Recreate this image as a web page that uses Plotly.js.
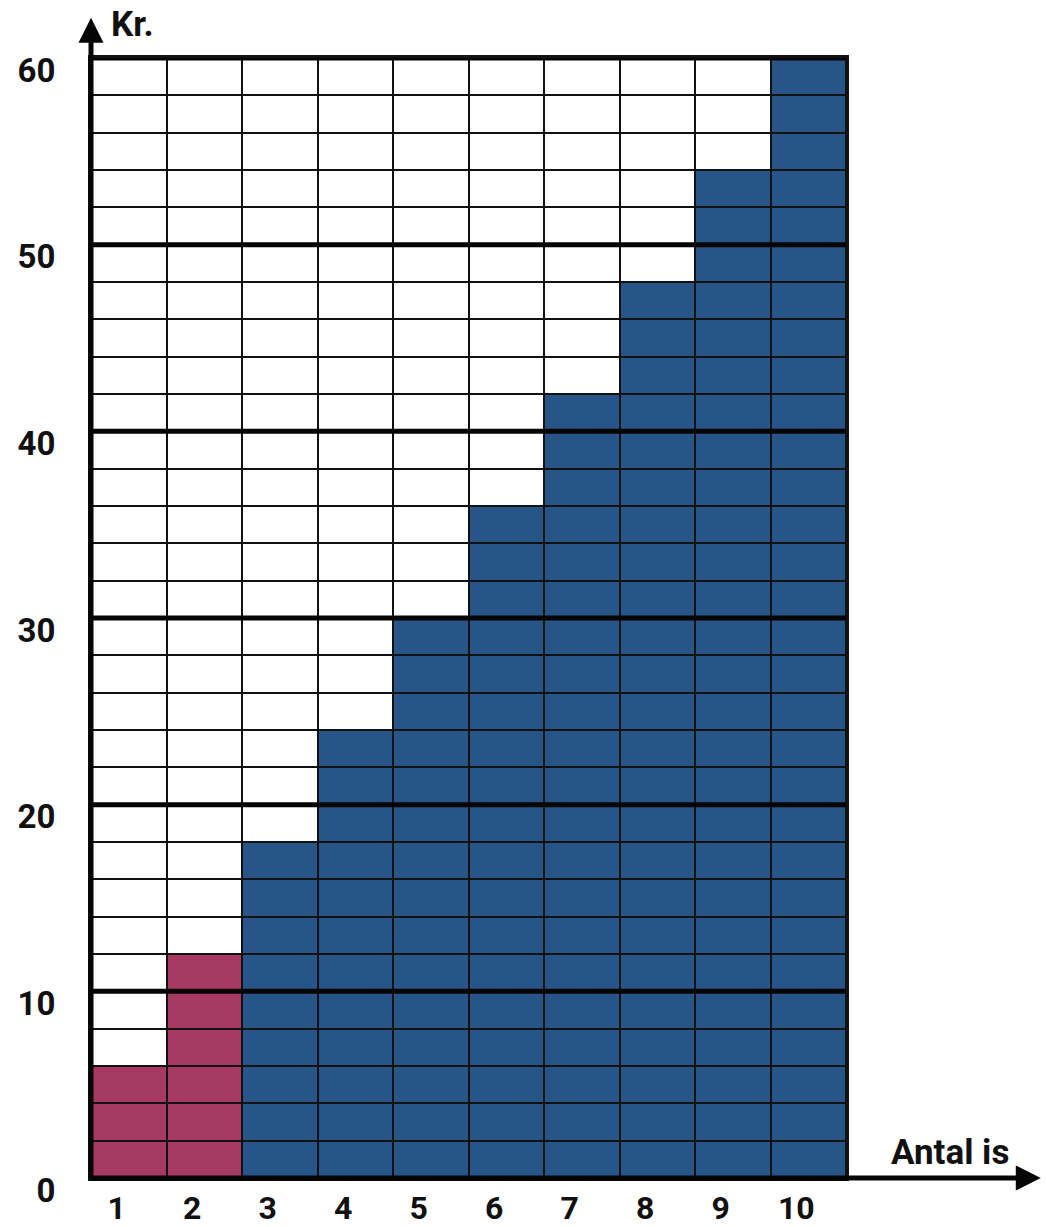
<!DOCTYPE html>
<html>
<head>
<meta charset="utf-8">
<script src="https://cdn.plot.ly/plotly-3.0.1.min.js"></script>
<style>html,body{margin:0;padding:0;background:#fff;}#chart{width:1046px;height:1227px;}</style>
</head>
<body>
<div id="chart"></div>
<script>
// Data
const antalIs = [1, 2, 3, 4, 5, 6, 7, 8, 9, 10];
const pris = [6, 12, 18, 24, 30, 36, 42, 48, 54, 60];
const seriesColor = ['#a63a62', '#a63a62', '#285587', '#285587', '#285587', '#285587', '#285587', '#285587', '#285587', '#285587'];
const cellStep = 2;          // kr per grid row
const yMax = 60;
const yTicks = [0, 10, 20, 30, 40, 50, 60];
const xTickText = ['1', '2', '3', '4', '5', '6', '7', '8', '9', '10'];
const yLabel = 'Kr.';
const xLabel = 'Antal is';

const FONT = 'Roboto, "Open Sans", "DejaVu Sans", sans-serif';

// One stacked bar trace per grid row; each cell coloured if it lies below the price
const traces = [];
for (let r = 0; r < yMax / cellStep; r++) {
  const top = (r + 1) * cellStep;
  traces.push({
    type: 'bar',
    x: antalIs,
    y: antalIs.map(() => cellStep),
    marker: {
      color: pris.map((p, i) => (top <= p ? seriesColor[i] : '#ffffff')),
      line: {color: '#111111', width: 2}
    },
    hoverinfo: 'skip',
    showlegend: false
  });
}

// Thick lines every 10 kr
const shapes = yTicks.filter(v => v > 0).map(v => ({
  type: 'line', xref: 'paper', x0: 0, x1: 1, yref: 'y', y0: v, y1: v,
  line: {color: '#050505', width: 5}, layer: 'above'
}));

const layout = {
  width: 1046, height: 1227,
  margin: {l: 91, r: 200, t: 58, b: 49},
  paper_bgcolor: '#ffffff', plot_bgcolor: '#ffffff',
  barmode: 'stack', bargap: 0,
  showlegend: false,
  xaxis: {
    range: [0.5, 10.5], tickvals: antalIs, ticktext: xTickText,
    showgrid: false, zeroline: false, showline: true, linecolor: '#111', linewidth: 3, mirror: true,
    ticks: '', ticklabelstandoff: 0, ticklabelshift: -12,
    tickfont: {family: FONT, size: 32, color: '#111', weight: 700},
    fixedrange: true
  },
  yaxis: {
    range: [0, yMax], tickvals: yTicks,
    showgrid: false, zeroline: false, showline: true, linecolor: '#111', linewidth: 3, mirror: true,
    ticks: '', ticklabelstandoff: 26, ticklabelshift: 12,
    tickfont: {family: FONT, size: 33, color: '#111', weight: 700},
    fixedrange: true
  },
  shapes: shapes,
  annotations: [
    // y axis arrow
    {xref: 'paper', yref: 'paper', x: 0, y: 1.036, ax: 0, ay: 1162, axref: 'pixel', ayref: 'pixel',
     showarrow: true, arrowhead: 2, arrowsize: 1.0, arrowwidth: 5, arrowcolor: '#050505', text: ''},
    // x axis arrow
    {xref: 'paper', yref: 'paper', x: 1.258, y: 0, ax: -951, ay: 0, axref: 'pixel', ayref: 'pixel',
     showarrow: true, arrowhead: 2, arrowsize: 1.0, arrowwidth: 5, arrowcolor: '#050505', text: ''},
    {xref: 'paper', yref: 'paper', x: 0.024, y: 1.03, xanchor: 'left', yanchor: 'middle', showarrow: false,
     text: yLabel, font: {family: FONT, size: 35, color: '#111', weight: 700}},
    {xref: 'paper', yref: 'paper', x: 1.138, y: 0.003, xanchor: 'center', yanchor: 'bottom', showarrow: false,
     text: xLabel, font: {family: FONT, size: 35, color: '#111', weight: 700}}
  ]
};

Plotly.newPlot('chart', traces, layout, {displayModeBar: false, staticPlot: true});
</script>
</body>
</html>
